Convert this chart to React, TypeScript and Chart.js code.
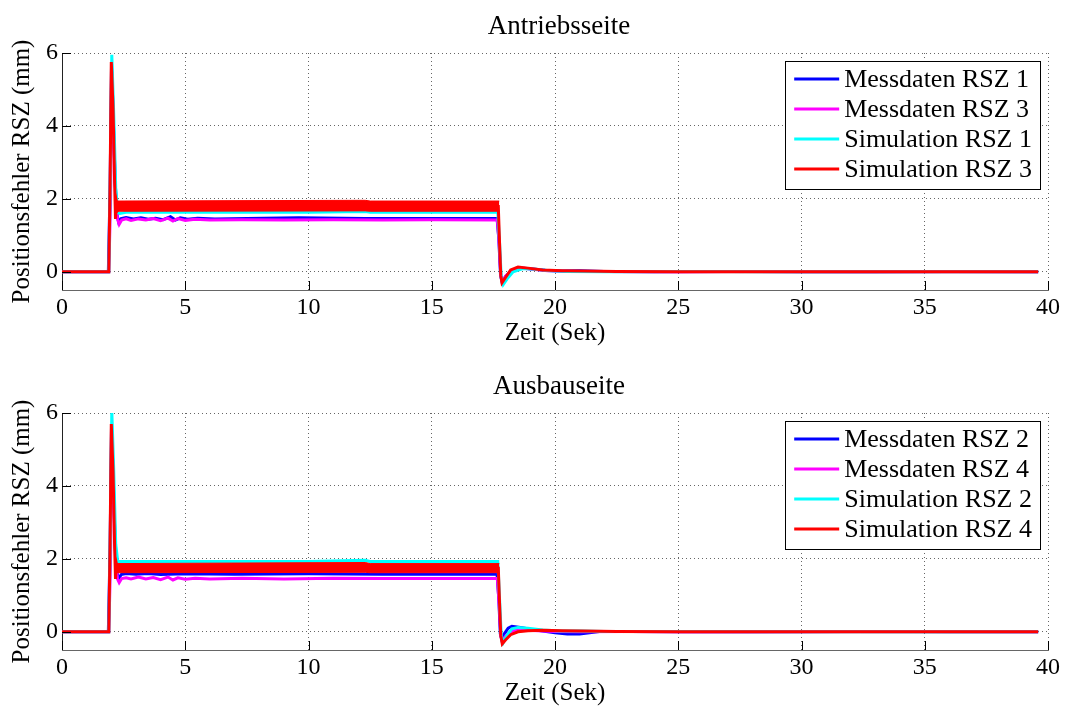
import React, { useEffect, useRef } from "react";
import { Chart, registerables } from "chart.js";

Chart.register(...registerables);

type P = [number, number];

const FONT = '"Liberation Serif", "Times New Roman", serif';

const xTicks = [0, 5, 10, 15, 20, 25, 30, 35, 40];
const yTicks = [0, 2, 4, 6];

const topTitle = "Antriebsseite";
const bottomTitle = "Ausbauseite";
const xTitle = "Zeit (Sek)";
const yTitle = "Positionsfehler RSZ (mm)";

const topLabels = ["Messdaten RSZ 1", "Messdaten RSZ 3", "Simulation RSZ 1", "Simulation RSZ 3"];
const bottomLabels = ["Messdaten RSZ 2", "Messdaten RSZ 4", "Simulation RSZ 2", "Simulation RSZ 4"];

// ---- Top panel (Antriebsseite) ----
const topMess1: P[] = [
  [0, 0], [1.88, 0], [1.95, 2.3], [2.01, 5.7], [2.08, 4.2], [2.16, 2.4], [2.24, 1.55], [2.3, 1.36],
  [2.4, 1.46], [2.6, 1.49], [2.9, 1.45], [3.2, 1.48], [3.5, 1.44], [3.8, 1.47], [4.1, 1.43], [4.4, 1.51],
  [4.6, 1.42], [4.8, 1.48], [5.1, 1.44], [5.5, 1.47], [6.2, 1.45], [7.5, 1.46], [9.6, 1.48], [12.3, 1.46],
  [15, 1.46], [17.65, 1.46], [17.72, 0.9], [17.79, -0.1], [17.85, -0.28], [18.0, -0.12], [18.3, 0.06],
  [18.6, 0.1], [19.0, 0.08], [19.6, 0.04], [20.3, 0.02], [21, 0.03], [22, 0.01], [24, 0], [27, 0.01],
  [30, 0], [33, 0], [36, 0.01], [39.6, 0],
];
const topMess3: P[] = [
  [0, 0], [1.9, 0], [1.97, 2.0], [2.02, 5.5], [2.09, 4.0], [2.17, 2.2], [2.25, 1.45], [2.32, 1.3],
  [2.42, 1.42], [2.6, 1.45], [2.8, 1.41], [3.1, 1.45], [3.4, 1.42], [3.7, 1.46], [4.0, 1.4], [4.3, 1.47],
  [4.5, 1.39], [4.7, 1.46], [5.0, 1.41], [5.4, 1.44], [6, 1.42], [7.3, 1.43], [9, 1.42], [11, 1.43],
  [13, 1.42], [15, 1.43], [17.66, 1.42], [17.73, 0.85], [17.8, -0.1], [17.86, -0.27], [18.02, -0.1],
  [18.3, 0.05], [18.6, 0.1], [19.1, 0.07], [19.7, 0.03], [20.5, 0.01], [22, 0.01], [25, 0], [28, 0.01],
  [32, 0], [36, 0], [39.6, 0],
];
const topSim1: P[] = [
  [0, 0], [1.9, 0], [1.96, 2.5], [2.02, 5.95], [2.1, 4.3], [2.18, 2.3], [2.26, 1.62], [2.35, 1.6],
  [2.6, 1.63], [5, 1.63], [10, 1.63], [12.3, 1.65], [12.5, 1.63], [15, 1.63], [17.68, 1.63], [17.75, 0.8],
  [17.82, -0.15], [17.9, -0.35], [18.05, -0.2], [18.3, 0.0], [18.7, 0.09], [19.2, 0.07], [19.8, 0.03],
  [20.5, 0.01], [22, 0], [25, 0.01], [30, 0], [35, 0], [39.6, 0],
];
const topSim3: P[] = [
  [0, 0], [1.9, 0], [1.95, 2.4], [2.0, 5.75], [2.07, 4.5], [2.13, 2.6], [2.17, 1.45], [2.21, 1.9],
  [2.26, 1.7], [2.35, 1.8], [5, 1.79], [10, 1.79], [12.3, 1.82], [12.5, 1.79], [15, 1.79], [17.7, 1.79],
  [17.75, 0.8], [17.8, -0.1], [17.85, -0.3], [18.0, -0.15], [18.2, 0.05], [18.5, 0.13], [18.9, 0.1],
  [19.5, 0.05], [20.3, 0.03], [21.2, 0.02], [22.5, 0.01], [25, 0], [30, 0], [35, 0], [39.6, 0],
];
const topSim3BandUpper: P[] = [[2.18, 1.94], [12.3, 1.96], [12.5, 1.94], [17.74, 1.94]];
const topSim3BandLower: P[] = [[2.18, 1.66], [12.3, 1.67], [12.5, 1.66], [17.74, 1.66]];

// ---- Bottom panel (Ausbauseite) ----
const botMess2: P[] = [
  [0, 0], [1.88, 0], [1.95, 2.3], [2.01, 5.7], [2.08, 4.1], [2.16, 2.3], [2.24, 1.6], [2.3, 1.45],
  [2.4, 1.57], [2.6, 1.6], [3, 1.58], [3.5, 1.6], [4, 1.57], [5, 1.59], [7, 1.58], [10, 1.59], [13, 1.58],
  [15, 1.58], [17.65, 1.58], [17.72, 0.9], [17.78, -0.05], [17.84, -0.22], [17.95, -0.05], [18.1, 0.1],
  [18.25, 0.15], [18.6, 0.12], [19.0, 0.07], [19.5, 0.02], [20.0, -0.03], [20.5, -0.06], [21.0, -0.06],
  [21.4, -0.03], [21.8, 0.01], [23, 0.01], [25, 0], [28, 0], [32, 0.01], [36, 0], [39.6, 0],
];
const botMess4: P[] = [
  [0, 0], [1.9, 0], [1.97, 2.0], [2.02, 5.5], [2.09, 4.0], [2.17, 2.1], [2.25, 1.45], [2.32, 1.35],
  [2.42, 1.46], [2.6, 1.48], [2.8, 1.45], [3.1, 1.5], [3.4, 1.45], [3.7, 1.49], [4.0, 1.43], [4.3, 1.5],
  [4.5, 1.42], [4.7, 1.48], [5.0, 1.44], [5.4, 1.47], [6, 1.45], [7.3, 1.47], [9, 1.45], [11, 1.47],
  [13, 1.46], [15, 1.46], [17.66, 1.46], [17.73, 0.8], [17.8, -0.1], [17.86, -0.25], [18.02, -0.1],
  [18.3, 0.03], [18.7, 0.05], [19.3, 0.03], [20, 0.01], [21, 0.0], [23, 0.01], [26, 0], [30, 0],
  [35, 0.01], [39.6, 0],
];
const botSim2: P[] = [
  [0, 0], [1.9, 0], [1.96, 2.6], [2.02, 6.05], [2.1, 4.4], [2.18, 2.4], [2.26, 1.93], [2.6, 1.93],
  [5, 1.93], [10, 1.93], [12.3, 1.96], [12.5, 1.93], [15, 1.93], [17.68, 1.93], [17.75, 0.9],
  [17.82, -0.1], [17.9, -0.3], [18.05, -0.1], [18.25, 0.08], [18.5, 0.12], [18.9, 0.1], [19.5, 0.05],
  [20.2, 0.02], [21, 0.02], [22, 0.01], [25, 0.01], [30, 0], [35, 0], [39.6, 0],
];
const botSim4: P[] = [
  [0, 0], [1.9, 0], [1.95, 2.4], [2.0, 5.7], [2.07, 4.4], [2.13, 2.5], [2.17, 1.45], [2.21, 1.85],
  [2.26, 1.68], [2.35, 1.74], [5, 1.74], [10, 1.74], [12.3, 1.77], [12.5, 1.74], [15, 1.74], [17.7, 1.74],
  [17.75, 0.8], [17.8, -0.1], [17.86, -0.33], [18.0, -0.22], [18.2, -0.08], [18.5, 0.0], [18.9, 0.03],
  [19.5, 0.04], [20.3, 0.03], [21.2, 0.02], [22.5, 0.01], [25, 0], [30, 0], [35, 0], [39.6, 0],
];
const botSim4BandUpper: P[] = [[2.18, 1.87], [12.3, 1.9], [12.5, 1.87], [17.74, 1.87]];
const botSim4BandLower: P[] = [[2.18, 1.62], [12.3, 1.63], [12.5, 1.62], [17.74, 1.62]];

const COLORS = ["#0000ff", "#ff00ff", "#00ffff", "#ff0000"];

const toXY = (arr: P[]) => arr.map(([x, y]) => ({ x, y }));

const innerTicks = {
  id: "innerTicks",
  afterDatasetsDraw(chart: any) {
    const { ctx, chartArea, scales } = chart;
    const { left, bottom } = chartArea;
    ctx.save();
    ctx.strokeStyle = "#000";
    ctx.lineWidth = 1;
    scales.x.ticks.forEach((t: any) => {
      const px = Math.round(scales.x.getPixelForValue(t.value)) + 0.5;
      ctx.beginPath();
      ctx.moveTo(px, bottom);
      ctx.lineTo(px, bottom - 9);
      ctx.stroke();
    });
    scales.y.ticks.forEach((t: any) => {
      const py = Math.round(scales.y.getPixelForValue(t.value)) + 0.5;
      ctx.beginPath();
      ctx.moveTo(left, py);
      ctx.lineTo(left + 9, py);
      ctx.stroke();
    });
    ctx.restore();
  },
};

const areaTitle = {
  id: "areaTitle",
  afterDraw(chart: any, _args: any, opts: any) {
    const { ctx, chartArea } = chart;
    ctx.save();
    ctx.font = `27px ${FONT}`;
    ctx.fillStyle = "#000";
    ctx.textAlign = "center";
    ctx.textBaseline = "middle";
    ctx.fillText(opts.text, (chartArea.left + chartArea.right) / 2 + 4, 27);
    ctx.restore();
  },
};

const boxLegend = {
  id: "boxLegend",
  afterDraw(chart: any) {
    const { ctx, chartArea } = chart;
    const items = chart.data.datasets.filter((d: any) => d.inLegend);
    ctx.save();
    ctx.font = `26px ${FONT}`;
    let maxW = 0;
    items.forEach((d: any) => {
      maxW = Math.max(maxW, ctx.measureText(d.label).width);
    });
    const rowH = 30;
    const lineLen = 45;
    const boxW = 9 + lineLen + 5 + maxW + 8;
    const boxH = items.length * rowH + 8;
    const right = chartArea.right - 8;
    const top = chartArea.top + 8;
    const leftX = right - boxW;
    ctx.fillStyle = "#fff";
    ctx.fillRect(leftX, top, boxW, boxH);
    ctx.strokeStyle = "#000";
    ctx.lineWidth = 1;
    ctx.strokeRect(Math.round(leftX) + 0.5, top + 0.5, Math.round(boxW), boxH);
    items.forEach((d: any, i: number) => {
      const cy = top + 18 + i * rowH;
      ctx.strokeStyle = d.borderColor;
      ctx.lineWidth = 3;
      ctx.beginPath();
      ctx.moveTo(leftX + 9, cy);
      ctx.lineTo(leftX + 9 + lineLen, cy);
      ctx.stroke();
      ctx.fillStyle = "#000";
      ctx.textBaseline = "middle";
      ctx.textAlign = "left";
      ctx.fillText(d.label, leftX + 9 + lineLen + 5, cy + 1);
    });
    ctx.restore();
  },
};

// Solid left/bottom axis lines over the dotted grid
const solidAxes = {
  id: "solidAxes",
  beforeDatasetsDraw(chart: any) {
    const { ctx, chartArea } = chart;
    ctx.save();
    ctx.lineWidth = 1;
    ctx.strokeStyle = "#222";
    ctx.beginPath();
    ctx.moveTo(Math.round(chartArea.left) + 0.5, chartArea.top);
    ctx.lineTo(Math.round(chartArea.left) + 0.5, chartArea.bottom + 1);
    ctx.stroke();
    ctx.strokeStyle = "#666";
    ctx.beginPath();
    ctx.moveTo(chartArea.left, Math.round(chartArea.bottom) + 0.5);
    ctx.lineTo(chartArea.right + 1, Math.round(chartArea.bottom) + 0.5);
    ctx.stroke();
    ctx.restore();
  },
};

function buildConfig(title: string, labels: string[], series: P[][], bandUp: P[], bandLow: P[], height: number) {
  const lineDs = (i: number, order: number) => ({
    label: labels[i],
    data: toXY(series[i]),
    borderColor: COLORS[i],
    backgroundColor: COLORS[i],
    borderWidth: 3,
    pointRadius: 0,
    tension: 0,
    fill: false,
    order,
    inLegend: true,
  });
  const datasets: any[] = [
    lineDs(0, 6),
    lineDs(1, 5),
    lineDs(2, 4),
    {
      label: labels[3] + " lower",
      data: toXY(bandLow),
      borderColor: COLORS[3],
      borderWidth: 1,
      pointRadius: 0,
      fill: false,
      order: 3,
    },
    {
      label: labels[3] + " upper",
      data: toXY(bandUp),
      borderColor: COLORS[3],
      backgroundColor: COLORS[3],
      borderWidth: 1,
      pointRadius: 0,
      fill: "-1",
      order: 2,
    },
    lineDs(3, 1),
  ];
  return {
    type: "line",
    data: { datasets },
    options: {
      animation: false,
      responsive: false,
      devicePixelRatio: 1,
      layout: { padding: { left: 0, right: 21, top: 53, bottom: height - 346 } },
      plugins: {
        legend: { display: false },
        tooltip: { enabled: false },
        title: { display: false },
        areaTitle: { text: title },
      },
      scales: {
        x: {
          type: "linear",
          min: 0,
          max: 40,
          afterBuildTicks: (s: any) => {
            s.ticks = xTicks.map((v) => ({ value: v }));
          },
          afterFit: (s: any) => {
            s.height = 56;
          },
          ticks: {
            color: "#000",
            font: { family: FONT, size: 24 },
            padding: 3,
            maxRotation: 0,
            autoSkip: false,
          },
          grid: {
            color: "#666",
            lineWidth: 1,
            drawTicks: false,
          },
          border: { display: false },
          title: {
            display: true,
            text: xTitle,
            color: "#000",
            font: { family: FONT, size: 25, lineHeight: 1 },
            padding: { top: 0, bottom: 0 },
          },
        },
        y: {
          type: "linear",
          min: -0.5,
          max: 6,
          afterBuildTicks: (s: any) => {
            s.ticks = yTicks.map((v) => ({ value: v }));
          },
          afterFit: (s: any) => {
            s.width = 62;
          },
          ticks: {
            color: "#000",
            font: { family: FONT, size: 24 },
            padding: 4,
          },
          grid: {
            color: "#666",
            lineWidth: 1,
            drawTicks: false,
          },
          border: { display: false },
          title: {
            display: true,
            text: yTitle,
            color: "#000",
            font: { family: FONT, size: 25, lineHeight: 1 },
            padding: { top: 10, bottom: 0 },
          },
        },
      },
    },
    plugins: [innerTicks, boxLegend, solidAxes, areaTitle],
  } as any;
}

function Panel(props: { title: string; labels: string[]; series: P[][]; bandUp: P[]; bandLow: P[]; height: number }) {
  const ref = useRef<HTMLCanvasElement | null>(null);
  useEffect(() => {
    if (!ref.current) return;
    const cfg = buildConfig(props.title, props.labels, props.series, props.bandUp, props.bandLow, props.height);
    // dotted grid lines (Chart.js 4: grid dash via border.dash is for the axis; use scriptable segment via plugin-free option)
    cfg.options.scales.x.grid.borderDash = [1, 3];
    cfg.options.scales.y.grid.borderDash = [1, 3];
    cfg.options.scales.x.border = { display: false, dash: [1, 3] };
    cfg.options.scales.y.border = { display: false, dash: [1, 3] };
    const chart = new Chart(ref.current, cfg);
    return () => chart.destroy();
  }, []);
  return <canvas ref={ref} width={1069} height={props.height} style={{ display: "block", width: 1069, height: props.height }} />;
}

export default function App() {
  return (
    <div style={{ position: "fixed", left: 0, top: 0, width: 1069, height: 711, background: "#fff" }}>
      <Panel title={topTitle} labels={topLabels} series={[topMess1, topMess3, topSim1, topSim3]} bandUp={topSim3BandUpper} bandLow={topSim3BandLower} height={360} />
      <Panel title={bottomTitle} labels={bottomLabels} series={[botMess2, botMess4, botSim2, botSim4]} bandUp={botSim4BandUpper} bandLow={botSim4BandLower} height={351} />
    </div>
  );
}
